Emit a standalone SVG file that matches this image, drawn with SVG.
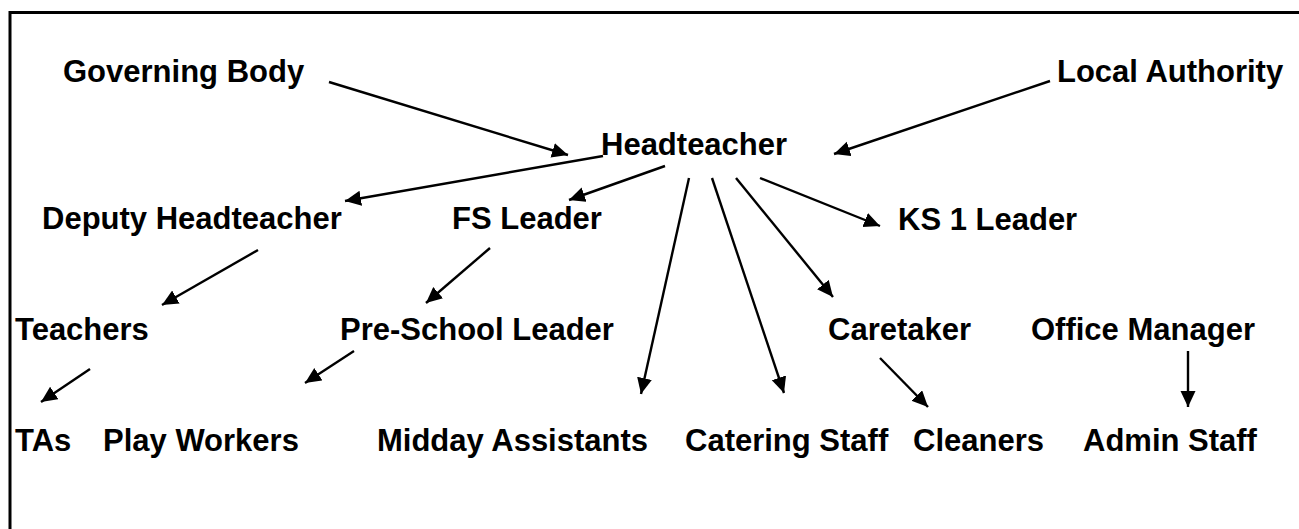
<svg xmlns="http://www.w3.org/2000/svg" width="1299" height="529" viewBox="0 0 1299 529">
<style>
text{font-family:"Liberation Sans",Arial,sans-serif;font-weight:bold;font-size:31px;fill:#000}
.c line{stroke:#000;stroke-width:2.4;marker-end:url(#ah)}
</style>
<defs>
<marker id="ah" markerUnits="userSpaceOnUse" markerWidth="18" markerHeight="16" refX="16" refY="7.5" orient="auto" viewBox="0 0 18 16">
<path d="M0,0 L16,7.5 L0,15 z" fill="#000"/>
</marker>
</defs>
<rect width="1299" height="529" fill="#fff"/>
<path d="M10,540 V12.5 H1310" fill="none" stroke="#000" stroke-width="3"/>
<g id="governing-body"><text x="63" y="82">Governing Body</text></g>
<g id="local-authority"><text x="1057" y="82">Local Authority</text></g>
<g id="headteacher"><text x="601" y="155">Headteacher</text></g>
<g id="deputy-headteacher"><text x="42" y="229">Deputy Headteacher</text></g>
<g id="fs-leader"><text x="452" y="229">FS Leader</text></g>
<g id="ks1-leader"><text x="898" y="230">KS 1 Leader</text></g>
<g id="teachers"><text x="15" y="340">Teachers</text></g>
<g id="pre-school-leader"><text x="340" y="340">Pre-School Leader</text></g>
<g id="caretaker"><text x="828" y="340">Caretaker</text></g>
<g id="office-manager"><text x="1031" y="340">Office Manager</text></g>
<g id="tas"><text x="15" y="451">TAs</text></g>
<g id="play-workers"><text x="103" y="451">Play Workers</text></g>
<g id="midday-assistants"><text x="377" y="451">Midday Assistants</text></g>
<g id="catering-staff"><text x="685" y="451">Catering Staff</text></g>
<g id="cleaners"><text x="913" y="451">Cleaners</text></g>
<g id="admin-staff"><text x="1083" y="451">Admin Staff</text></g>
<g id="connectors" class="c">
<line x1="329" y1="82" x2="568" y2="155"/>
<line x1="1050" y1="81" x2="834" y2="154"/>
<line x1="603" y1="156" x2="345" y2="201"/>
<line x1="665" y1="166" x2="569" y2="200"/>
<line x1="689" y1="178" x2="641" y2="394"/>
<line x1="712" y1="178" x2="784" y2="393"/>
<line x1="736" y1="178" x2="833" y2="297"/>
<line x1="760" y1="178" x2="880" y2="226"/>
<line x1="258" y1="250" x2="162" y2="305"/>
<line x1="490" y1="248" x2="426" y2="303"/>
<line x1="90" y1="369" x2="41" y2="402"/>
<line x1="354" y1="351" x2="305" y2="383"/>
<line x1="880" y1="358" x2="928" y2="407"/>
<line x1="1188" y1="351" x2="1188" y2="407"/>
</g>
</svg>
